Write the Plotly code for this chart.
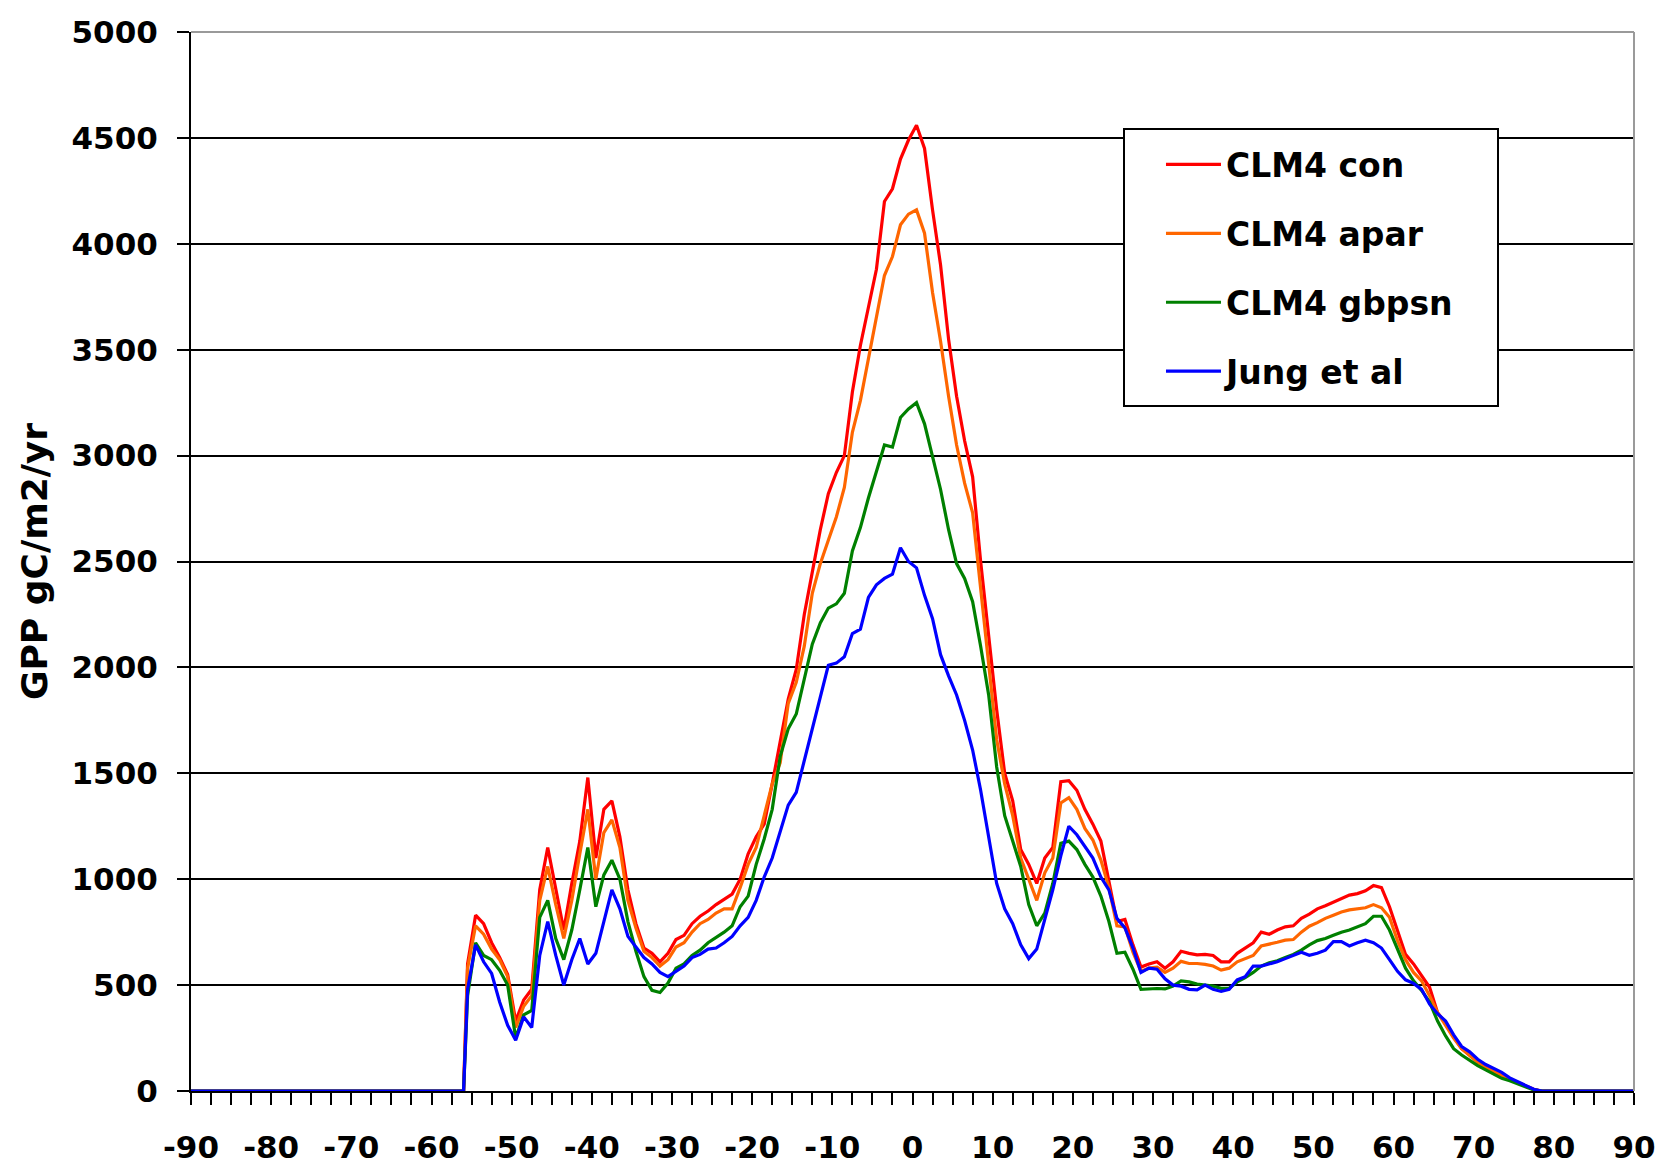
import plotly.graph_objects as go

# Zonal mean GPP (gC/m2/yr) in 1-degree latitude bands, plotted at band centres.
# Land starts near 56S; south and north of the land the values are zero.
LATITUDE = [-90, -56] + [lat + 0.5 for lat in range(-56, 79)] + [90]

CLM4_CON = [
    0, 0,
    600, 830, 790, 700, 630, 550, 330, 430, 480, 950,
    1150, 950, 760, 980, 1180, 1480, 1100, 1330, 1370, 1200,
    950, 790, 675, 650, 610, 650, 715, 735, 790, 825,
    850, 880, 905, 930, 1000, 1120, 1200, 1260, 1450, 1650,
    1850, 1990, 2250, 2450, 2650, 2820, 2920, 3000, 3300, 3520,
    3700, 3880, 4200, 4260, 4400, 4490, 4560, 4450, 4160, 3900,
    3550, 3280, 3070, 2900, 2500, 2150, 1800, 1500, 1370, 1140,
    1070, 980, 1100, 1150, 1460, 1465, 1420, 1330, 1260, 1180,
    990, 800, 810, 690, 585, 600, 610, 580, 610, 660,
    650, 643, 645, 640, 610, 610, 650, 673, 700, 750,
    740, 760, 775, 780, 815, 835, 860, 875, 892, 905,
    925, 932, 945, 970, 960, 870, 760, 645, 600, 545,
    490, 370, 320, 255, 200, 170, 140, 115, 95, 75,
    55, 40, 25, 8, 0,
    0,
]

CLM4_APAR = [
    0, 0,
    580, 780, 740, 670, 620, 540, 300, 400, 450, 900,
    1060, 880, 720, 900, 1120, 1330, 1000, 1220, 1280, 1150,
    900, 770, 660, 630, 590, 620, 680, 700, 750, 790,
    810, 840, 860, 860, 960, 1070, 1150, 1300, 1450, 1550,
    1830, 1930, 2100, 2350, 2490, 2600, 2710, 2850, 3110, 3260,
    3460, 3650, 3850, 3940, 4090, 4140, 4160, 4050, 3770, 3540,
    3280, 3050, 2870, 2730, 2370, 2000, 1660, 1450, 1300, 1100,
    1000, 900, 1030, 1100, 1360, 1385, 1330, 1240, 1185, 1090,
    960, 780, 775, 655, 565, 580, 585, 560, 580, 612,
    602, 602, 598, 590, 571, 580, 610, 625, 640, 685,
    692, 702, 712, 715, 750, 778, 795, 815, 830, 845,
    855, 861, 865, 880, 865, 820, 710, 620, 560, 520,
    450, 370, 310, 250, 200, 165, 135, 112, 92, 72,
    55, 40, 22, 6, 0,
    0,
]

CLM4_GBPSN = [
    0, 0,
    450, 700, 640, 620, 570, 500, 250, 360, 380, 820,
    900, 720, 620, 760, 950, 1150, 870, 1020, 1090, 1000,
    800, 660, 540, 475, 465, 510, 580, 600, 640, 665,
    700, 725, 750, 780, 870, 920, 1070, 1190, 1330, 1580,
    1710, 1780, 1950, 2110, 2210, 2280, 2300, 2350, 2550, 2660,
    2800, 2920, 3050, 3040, 3180, 3220, 3250, 3150, 3000, 2840,
    2650, 2490, 2420, 2310, 2100, 1870, 1530, 1300, 1180, 1060,
    880, 780, 840, 980, 1170, 1180, 1140, 1070, 1010, 920,
    800, 650, 655, 575, 480, 482, 484, 482, 495, 520,
    515, 505, 500, 495, 485, 485, 515, 535, 560, 590,
    605, 615, 630, 645, 665, 690, 710, 720, 735, 750,
    760, 775, 790, 825, 825, 760, 670, 580, 520, 475,
    420, 330, 260, 200, 170, 145, 120, 100, 80, 60,
    48, 35, 20, 5, 0,
    0,
]

JUNG_ET_AL = [
    0, 0,
    480, 690, 610, 555, 420, 310, 240, 350, 300, 640,
    800, 640, 500, 620, 720, 600, 650, 800, 950, 860,
    730, 680, 630, 600, 560, 540, 565, 590, 630, 645,
    670, 675, 700, 730, 780, 820, 900, 1010, 1100, 1230,
    1350, 1410, 1560, 1720, 1870, 2010, 2020, 2050, 2160, 2180,
    2330, 2390, 2420, 2440, 2565, 2500, 2470, 2340, 2230, 2060,
    1960, 1870, 1750, 1610, 1420, 1200, 980, 860, 790, 690,
    625, 670, 810, 950, 1110, 1250, 1210, 1155, 1100, 1010,
    950, 815, 770, 675, 560, 580, 575, 530, 500, 495,
    480, 478, 500, 480, 470, 480, 525, 540, 590, 590,
    600, 610, 625, 640, 655, 641, 650, 665, 705, 705,
    685, 700, 712, 700, 675, 620, 565, 525, 508, 480,
    410, 365, 330, 265, 210, 185, 150, 125, 105, 88,
    62, 45, 25, 8, 0,
    0,
]

SERIES_NAMES = ["CLM4 con", "CLM4 apar", "CLM4 gbpsn", "Jung et al"]
SERIES_VALUES = [CLM4_CON, CLM4_APAR, CLM4_GBPSN, JUNG_ET_AL]
SERIES_COLORS = ["#FF0000", "#FF6600", "#008000", "#0000FF"]

X_TICKS = [-90, -80, -70, -60, -50, -40, -30, -20, -10, 0, 10, 20, 30, 40, 50, 60, 70, 80, 90]
Y_TICKS = [0, 500, 1000, 1500, 2000, 2500, 3000, 3500, 4000, 4500, 5000]

FONT = "DejaVu Sans"

fig = go.Figure()
for i, (name, vals, col) in enumerate(zip(SERIES_NAMES, SERIES_VALUES, SERIES_COLORS)):
    fig.add_trace(go.Scatter(
        x=LATITUDE, y=vals, name=name, mode="lines",
        line=dict(color=col, width=3.2),
        legendgroup=f"g{i}",
    ))

fig.update_layout(
    width=1658, height=1166,
    margin=dict(l=191, r=24, t=32, b=75),
    paper_bgcolor="white", plot_bgcolor="white",
    font=dict(family=FONT, size=31, color="black", weight="bold"),
    showlegend=True,
    legend=dict(
        x=0.6722, y=0.9013, xanchor="left", yanchor="top",
        bgcolor="rgba(0,0,0,0)", borderwidth=0,
        font=dict(family=FONT, size=33, color="black", weight="bold"),
        tracegroupgap=23, itemwidth=55,
    ),
    xaxis=dict(
        range=[-90, 90], tickvals=X_TICKS, ticktext=[str(v) for v in X_TICKS],
        ticks="outside", ticklen=12, tickwidth=2, tickcolor="black",
        showline=True, linecolor="black", linewidth=2,
        showgrid=False, zeroline=False, ticklabelstandoff=16, automargin=False,
        minor=dict(dtick=2.5, tick0=-90, ticks="outside", ticklen=12,
                   tickwidth=2, tickcolor="black", showgrid=False),
    ),
    yaxis=dict(
        range=[0, 5000], tickvals=Y_TICKS,
        ticks="outside", ticklen=12, tickwidth=2, tickcolor="black",
        showline=True, linecolor="black", linewidth=2,
        showgrid=True, gridcolor="black", gridwidth=2, zeroline=False,
        ticklabelstandoff=13, automargin=False,
        title=dict(text="GPP gC/m2/yr", standoff=13,
                   font=dict(family=FONT, size=36, weight="bold")),
    ),
    shapes=[
        # light plot-area border on the top and right edges
        dict(type="line", xref="paper", yref="paper", x0=0, x1=1, y0=1, y1=1,
             line=dict(color="#9a9a9a", width=2), layer="above"),
        dict(type="line", xref="paper", yref="paper", x0=1, x1=1, y0=0, y1=1,
             line=dict(color="#9a9a9a", width=2), layer="above"),
        # legend frame
        dict(type="rect", xref="paper", yref="paper",
             x0=(1124 - 191) / 1443, x1=(1498 - 191) / 1443,
             y0=(1091 - 406) / 1059, y1=(1091 - 129) / 1059,
             fillcolor="white", line=dict(color="black", width=2), layer="above"),
    ],
)

fig.write_html("out.html")
